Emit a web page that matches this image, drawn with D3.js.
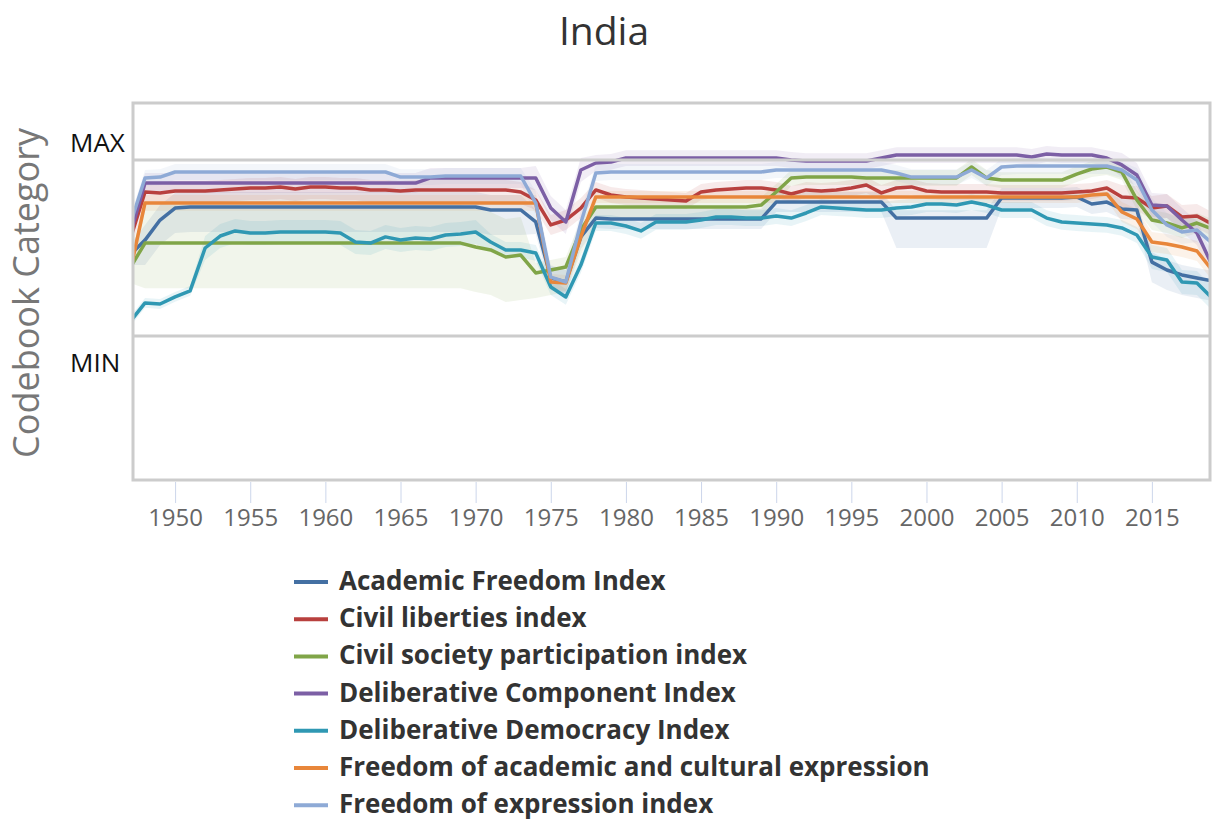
<!DOCTYPE html>
<html>
<head>
<meta charset="utf-8">
<script src="https://cdn.jsdelivr.net/npm/d3@7"></script>
<style>
  body { margin: 0; background: #fff; }
  text { font-family: "Open Sans", sans-serif; }
</style>
</head>
<body>
<div id="chart"></div>
<script>
// years 1947..2019, values scaled so MIN = 0 and MAX = 1
const years = d3.range(1947, 2020);
const tickYears = [1950, 1955, 1960, 1965, 1970, 1975, 1980, 1985, 1990, 1995, 2000, 2005, 2010, 2015];

const seriesNames = [
    "Academic Freedom Index",
    "Civil liberties index",
    "Civil society participation index",
    "Deliberative Component Index",
    "Deliberative Democracy Index",
    "Freedom of academic and cultural expression",
    "Freedom of expression index"
];
const seriesColors = ["#4470a3", "#b8403e", "#80a548", "#7c5fa5", "#2f98b3", "#e8863a", "#8eaad6"];

const academicFreedom = [
    0.460, 0.545, 0.659, 0.727, 0.733, 0.733, 0.733, 0.733, 0.733, 0.733,
    0.733, 0.733, 0.733, 0.733, 0.733, 0.733, 0.733, 0.733, 0.733, 0.733,
    0.733, 0.733, 0.733, 0.733, 0.716, 0.716, 0.716, 0.648, 0.330, 0.307,
    0.563, 0.670, 0.665, 0.665, 0.665, 0.665, 0.665, 0.665, 0.665, 0.665,
    0.665, 0.665, 0.665, 0.761, 0.761, 0.761, 0.761, 0.761, 0.761, 0.761,
    0.761, 0.670, 0.670, 0.670, 0.670, 0.670, 0.670, 0.670, 0.784, 0.784,
    0.784, 0.784, 0.784, 0.790, 0.750, 0.761, 0.722, 0.716, 0.420, 0.375,
    0.347, 0.330, 0.313
];
const civilLiberties = [
    0.545, 0.818, 0.813, 0.824, 0.824, 0.824, 0.830, 0.835, 0.841, 0.841,
    0.847, 0.835, 0.847, 0.847, 0.841, 0.841, 0.830, 0.830, 0.824, 0.830,
    0.830, 0.830, 0.830, 0.830, 0.830, 0.830, 0.818, 0.773, 0.631, 0.659,
    0.727, 0.830, 0.801, 0.790, 0.784, 0.778, 0.773, 0.767, 0.818, 0.830,
    0.835, 0.841, 0.841, 0.830, 0.807, 0.830, 0.824, 0.830, 0.841, 0.858,
    0.813, 0.841, 0.847, 0.824, 0.818, 0.818, 0.818, 0.818, 0.813, 0.813,
    0.813, 0.813, 0.813, 0.818, 0.824, 0.841, 0.790, 0.784, 0.727, 0.739,
    0.676, 0.682, 0.636
];
const civilSociety = [
    0.386, 0.528, 0.528, 0.528, 0.528, 0.528, 0.528, 0.528, 0.528, 0.528,
    0.528, 0.528, 0.528, 0.528, 0.528, 0.528, 0.528, 0.528, 0.528, 0.528,
    0.528, 0.528, 0.528, 0.506, 0.489, 0.449, 0.460, 0.358, 0.375, 0.392,
    0.602, 0.733, 0.733, 0.733, 0.733, 0.733, 0.733, 0.733, 0.733, 0.733,
    0.733, 0.733, 0.744, 0.818, 0.898, 0.903, 0.903, 0.903, 0.903, 0.898,
    0.898, 0.898, 0.898, 0.898, 0.898, 0.898, 0.960, 0.898, 0.886, 0.886,
    0.886, 0.886, 0.886, 0.920, 0.949, 0.960, 0.932, 0.773, 0.659, 0.642,
    0.614, 0.642, 0.608
];
const deliberativeComponent = [
    0.574, 0.869, 0.869, 0.869, 0.869, 0.869, 0.869, 0.869, 0.869, 0.869,
    0.869, 0.869, 0.869, 0.869, 0.869, 0.869, 0.869, 0.869, 0.869, 0.869,
    0.898, 0.898, 0.898, 0.898, 0.898, 0.898, 0.898, 0.898, 0.727, 0.648,
    0.943, 0.983, 0.989, 1.011, 1.011, 1.011, 1.011, 1.011, 1.011, 1.011,
    1.011, 1.011, 1.011, 1.011, 1.000, 0.994, 0.994, 0.994, 0.994, 0.994,
    1.011, 1.028, 1.028, 1.028, 1.028, 1.028, 1.028, 1.028, 1.028, 1.028,
    1.017, 1.034, 1.028, 1.028, 1.028, 1.011, 0.972, 0.915, 0.744, 0.739,
    0.659, 0.585, 0.403
];
const deliberativeDemocracy = [
    0.080, 0.188, 0.182, 0.222, 0.256, 0.500, 0.568, 0.597, 0.585, 0.585,
    0.591, 0.591, 0.591, 0.591, 0.585, 0.534, 0.528, 0.563, 0.545, 0.557,
    0.551, 0.574, 0.580, 0.591, 0.534, 0.489, 0.489, 0.472, 0.278, 0.222,
    0.403, 0.642, 0.642, 0.625, 0.597, 0.648, 0.648, 0.648, 0.659, 0.676,
    0.676, 0.670, 0.670, 0.682, 0.670, 0.699, 0.733, 0.727, 0.722, 0.716,
    0.716, 0.727, 0.733, 0.750, 0.750, 0.744, 0.761, 0.744, 0.716, 0.716,
    0.716, 0.670, 0.648, 0.642, 0.636, 0.631, 0.614, 0.574, 0.449, 0.432,
    0.307, 0.301, 0.216
];
const academicCultural = [
    0.364, 0.756, 0.756, 0.756, 0.756, 0.756, 0.756, 0.756, 0.756, 0.756,
    0.756, 0.756, 0.756, 0.756, 0.756, 0.756, 0.756, 0.756, 0.756, 0.756,
    0.756, 0.756, 0.756, 0.756, 0.756, 0.756, 0.756, 0.756, 0.307, 0.301,
    0.563, 0.790, 0.790, 0.790, 0.790, 0.790, 0.790, 0.790, 0.790, 0.790,
    0.790, 0.790, 0.790, 0.790, 0.790, 0.790, 0.790, 0.790, 0.790, 0.790,
    0.790, 0.790, 0.790, 0.790, 0.790, 0.790, 0.790, 0.790, 0.790, 0.790,
    0.790, 0.790, 0.790, 0.790, 0.801, 0.807, 0.705, 0.665, 0.534, 0.523,
    0.506, 0.483, 0.375
];
const freedomExpression = [
    0.631, 0.898, 0.903, 0.932, 0.932, 0.932, 0.932, 0.932, 0.932, 0.932,
    0.932, 0.932, 0.932, 0.932, 0.932, 0.932, 0.932, 0.932, 0.903, 0.903,
    0.903, 0.909, 0.909, 0.909, 0.909, 0.909, 0.909, 0.756, 0.335, 0.307,
    0.642, 0.926, 0.932, 0.932, 0.932, 0.932, 0.932, 0.932, 0.932, 0.932,
    0.932, 0.932, 0.932, 0.943, 0.943, 0.943, 0.943, 0.943, 0.943, 0.943,
    0.943, 0.926, 0.903, 0.903, 0.903, 0.903, 0.943, 0.898, 0.960, 0.966,
    0.966, 0.966, 0.966, 0.966, 0.966, 0.966, 0.943, 0.886, 0.716, 0.631,
    0.591, 0.602, 0.528
];

// confidence band widths: [from year, above, below]
const academicFreedomBand = [[1947, 0.057, 0.057], [1948, 0.085, 0.142], [1974, 0.068, 0.068], [1978, 0.057, 0.057], [1998, 0.045, 0.170], [2005, 0.057, 0.057], [2015, 0.057, 0.114]];
const civilLibertiesBand = [[1947, 0.057, 0.068], [1974, 0.057, 0.057], [1978, 0.045, 0.045], [2013, 0.068, 0.068]];
const civilSocietyBand = [[1947, 0.085, 0.085], [1948, 0.216, 0.256], [1974, 0.057, 0.142], [1978, 0.045, 0.068], [1991, 0.045, 0.045], [2014, 0.057, 0.057]];
const deliberativeComponentBand = [[1947, 0.057, 0.057], [1974, 0.068, 0.068], [1978, 0.045, 0.045], [2013, 0.068, 0.068]];
const deliberativeDemocracyBand = [[1947, 0.028, 0.028], [1952, 0.068, 0.068], [1971, 0.045, 0.045], [2015, 0.068, 0.068]];
const academicCulturalBand = [[1947, 0.045, 0.045], [1978, 0.034, 0.034], [2013, 0.057, 0.057]];
const freedomExpressionBand = [[1947, 0.045, 0.045], [1974, 0.068, 0.068], [1978, 0.045, 0.045], [2014, 0.068, 0.068]];

const seriesValues = [academicFreedom, civilLiberties, civilSociety, deliberativeComponent, deliberativeDemocracy, academicCultural, freedomExpression];
const seriesBands = [academicFreedomBand, civilLibertiesBand, civilSocietyBand, deliberativeComponentBand, deliberativeDemocracyBand, academicCulturalBand, freedomExpressionBand];

const width = 1213, height = 822;
const box = { left: 133, top: 103, right: 1210, bottom: 480 };

const svg = d3.select("#chart").append("svg")
    .attr("width", width)
    .attr("height", height);

const x = d3.scaleLinear().domain([1947, 2019]).range([130, 1212]);
const y = d3.scaleLinear().domain([0, 1]).range([336, 160]);

// title
svg.append("text")
    .attr("x", 604).attr("y", 45)
    .attr("text-anchor", "middle")
    .style("font-size", "39px")
    .style("fill", "#333")
    .text("India");

// y axis title
svg.append("text")
    .attr("transform", "translate(39,293) rotate(-90)")
    .attr("text-anchor", "middle")
    .style("font-size", "36px")
    .style("fill", "#777")
    .text("Codebook Category");

svg.append("text").attr("x", 70).attr("y", y(1) - 8)
    .style("font-size", "26px").style("fill", "#111").text("MAX");
svg.append("text").attr("x", 70).attr("y", y(0) + 36)
    .style("font-size", "26px").style("fill", "#111").text("MIN");

// x axis ticks
const xAxis = svg.append("g")
    .attr("transform", `translate(0,${box.bottom + 2})`)
    .call(d3.axisBottom(x).tickValues(tickYears).tickFormat(d3.format("d")).tickSize(21).tickPadding(6));
xAxis.select(".domain").remove();
xAxis.selectAll(".tick line").attr("stroke", "#ccd6eb");
xAxis.selectAll(".tick text")
    .style("font-family", "'Open Sans', sans-serif")
    .style("font-size", "24px")
    .style("fill", "#666");

// clip for the plotting area
svg.append("clipPath").attr("id", "plotClip")
    .append("rect")
    .attr("x", box.left).attr("y", box.top)
    .attr("width", box.right - box.left).attr("height", box.bottom - box.top);

const plot = svg.append("g").attr("clip-path", "url(#plotClip)");

function bandAt(band, yr) {
    let cur = band[0];
    band.forEach(b => { if (yr >= b[0]) cur = b; });
    return cur;
}

const area = d3.area()
    .x(d => x(d.year))
    .y0(d => y(d.lo))
    .y1(d => y(d.hi));

const line = d3.line()
    .x(d => x(d.year))
    .y(d => y(d.value));

const series = seriesNames.map((name, i) => ({
    name,
    color: seriesColors[i],
    points: years.map((yr, j) => {
        const b = bandAt(seriesBands[i], yr);
        const v = seriesValues[i][j];
        return { year: yr, value: v, hi: v + b[1], lo: v - b[2] };
    })
}));

plot.selectAll(".band")
    .data(series)
    .enter()
    .append("path")
    .attr("class", "band")
    .attr("d", d => area(d.points))
    .attr("fill", d => d.color)
    .attr("fill-opacity", 0.11);

// MAX / MIN reference lines
[0, 1].forEach(v => {
    svg.append("line")
        .attr("x1", box.left).attr("x2", box.right)
        .attr("y1", y(v)).attr("y2", y(v))
        .attr("stroke", "#cccccc")
        .attr("stroke-width", 3);
});

plot.selectAll(".series")
    .data(series)
    .enter()
    .append("path")
    .attr("class", "series")
    .attr("d", d => line(d.points))
    .attr("fill", "none")
    .attr("stroke", d => d.color)
    .attr("stroke-width", 3.5)
    .attr("stroke-linejoin", "round");

// frame
svg.append("rect")
    .attr("x", box.left).attr("y", box.top)
    .attr("width", box.right - box.left).attr("height", box.bottom - box.top)
    .attr("fill", "none")
    .attr("stroke", "#cccccc")
    .attr("stroke-width", 3);

// legend
const legend = svg.append("g").attr("transform", "translate(294,582)");
const items = legend.selectAll(".item")
    .data(series)
    .enter()
    .append("g")
    .attr("class", "item")
    .attr("transform", (d, i) => `translate(0,${i * 37.2})`);

items.append("line")
    .attr("x1", 0).attr("x2", 34)
    .attr("stroke", d => d.color)
    .attr("stroke-width", 4);

items.append("text")
    .attr("x", 45).attr("y", 8)
    .style("font-size", "26px")
    .style("font-weight", "bold")
    .style("fill", "#333")
    .text(d => d.name);
</script>
</body>
</html>
